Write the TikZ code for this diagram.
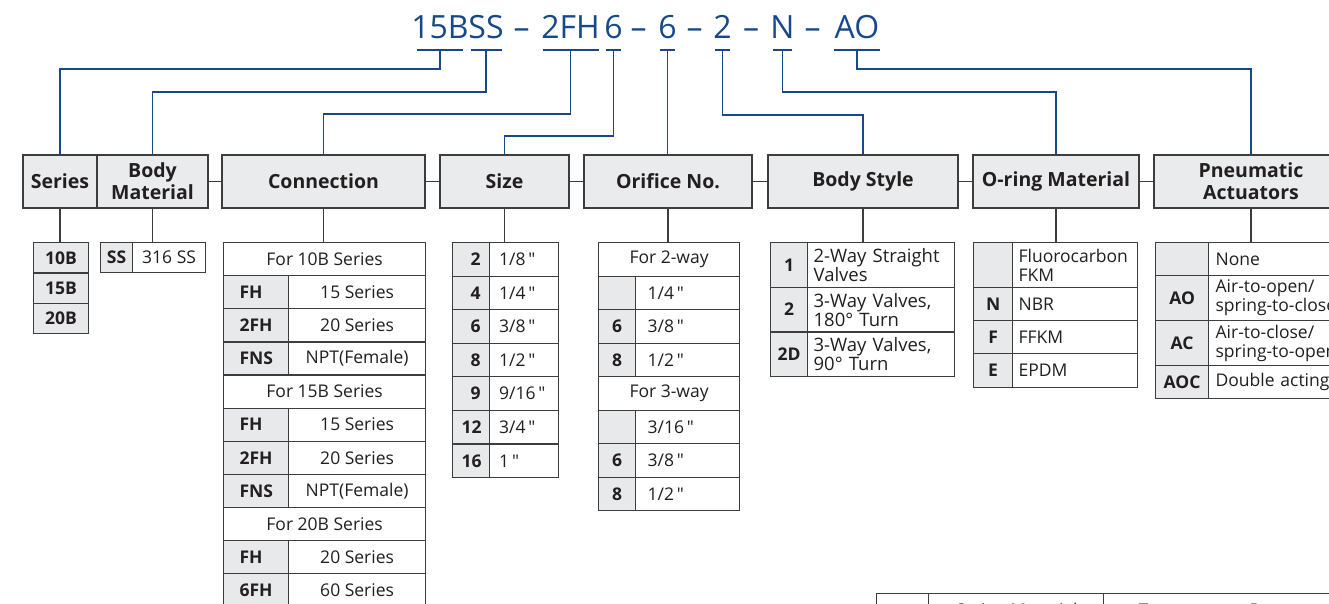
\documentclass[tikz,border=0pt]{standalone}
\usepackage{fontspec}
\setmainfont{Open Sans}[Ligatures=TeXOff]
\usepackage{tikz}
\usetikzlibrary{positioning, calc}
\definecolor{cCode}{HTML}{17498A}
\definecolor{cRule}{HTML}{3D3D3D}
\definecolor{cHead}{HTML}{EAEBEC}
\definecolor{cKey} {HTML}{E8E9EB}
\definecolor{cInk} {HTML}{231F20}

\begin{document}
\begin{tikzpicture}[x=1pt, y=-1pt,
    codepart/.style={text=cCode, font=\fontsize{32}{34}\selectfont, inner sep=0pt, anchor=base},
    codebar/.style={draw=cCode, line width=1.8pt},
    link/.style={draw=cCode, line width=1.8pt},
    tie/.style={draw=cRule, line width=1.3pt},
    header/.style={draw=cRule, fill=cHead, line width=1.3pt, minimum height=53, inner sep=0pt,
      text=cInk, font=\bfseries\fontsize{19.5}{22}\selectfont, align=center},
    keycell/.style={draw=cRule, fill=cKey, line width=1.2pt, anchor=north west, inner sep=0pt,
      text=cInk, font=\bfseries\fontsize{17.5}{19}\selectfont},
    valcell/.style={draw=cRule, fill=white, line width=1.2pt, anchor=north west, inner sep=0pt,
      text=cInk, font=\fontsize{17.5}{19}\selectfont},
  ]
  \useasboundingbox (0,0) rectangle (1329,604);

  % ordering code
  \node[codepart] (k15b) at (440,39)   {15B};
  \node[codepart] (kSS)  at (486,39)   {SS};
  \node[codepart] (d1)   at (521.5,39) {–};
  \node[codepart] (k2fh) at (570.5,39) {2FH};
  \node[codepart] (kSz)  at (613.5,39) {6};
  \node[codepart] (d2)   at (638.5,39) {–};
  \node[codepart] (kOri) at (667.5,39) {6};
  \node[codepart] (d3)   at (694.5,39) {–};
  \node[codepart] (kBS)  at (722.5,39) {2};
  \node[codepart] (d4)   at (751,39)   {–};
  \node[codepart] (kOR)  at (782.5,39) {N};
  \node[codepart] (d5)   at (812.5,39) {–};
  \node[codepart] (kPn)  at (857,39)   {AO};
  \foreach \k/\w in {k15b/23, kSS/15.5, k2fh/28, kSz/7.5, kOri/7.5, kBS/7.5, kOR/9.5, kPn/23}
    \draw[codebar] ([xshift=-\w pt, yshift=-11pt]\k.base) -- ([xshift=\w pt, yshift=-11pt]\k.base);

  % headers
  \node[header, minimum width=74]  (hSer)  at (60,181.5)    {Series};
  \node[header, minimum width=111] (hMat)  at (152.5,181.5) {Body\\Material};
  \node[header, minimum width=203] (hCon)  at (323.5,181.5) {Connection};
  \node[header, minimum width=129] (hSize) at (504.5,181.5) {Size};
  \node[header, minimum width=168] (hOri)  at (668,181.5)   {Orifice No.};
  \node[header, minimum width=190] (hBS)   at (863,181.5)   {Body Style};
  \node[header, minimum width=166] (hOR)   at (1056,181.5)  {O-ring Material};
  \node[header, minimum width=194] (hPn)   at (1251,181.5)  {Pneumatic\\Actuators};
  \foreach \a/\b in {hMat/hCon, hCon/hSize, hSize/hOri, hOri/hBS, hBS/hOR, hOR/hPn}
    \draw[tie] (\a.east) -- (\b.west);

  % code -> header
  \draw[link] ([yshift=-11pt]k15b.base) -- ++(0,19) -| (hSer.north);
  \draw[link] ([yshift=-11pt]kSS.base)  -- ++(0,42) -| (hMat.north);
  \draw[link] ([yshift=-11pt]k2fh.base) -- ++(0,64) -| (hCon.north);
  \draw[link] ([yshift=-11pt]kSz.base)  -- ++(0,86) -| (hSize.north);
  \draw[link] ([yshift=-11pt]kOri.base) -- (kOri.base |- hOri.north);
  \draw[link] ([yshift=-11pt]kBS.base)  -- ++(0,65) -| (hBS.north);
  \draw[link] ([yshift=-11pt]kOR.base)  -- ++(0,42) -| (hOR.north);
  \draw[link] ([yshift=-11pt]kPn.base)  -- ++(0,19) -| (hPn.north);

  % series
  \foreach \i/\t in {0/10B, 1/15B, 2/20B}
    \node[keycell, minimum width=55, minimum height=30.3] (ser\i) at (33,242+30.3*\i) {\t};

  % body material
  \node[keycell, minimum width=32, minimum height=30] (mat0) at (100,242) {SS};
  \node[valcell, minimum width=73, minimum height=30] (mat1) at (132,242) {316 SS};

  % connection
  \foreach \i/\t in {0/For 10B Series, 4/For 15B Series, 8/For 20B Series}
    \node[valcell, minimum width=202, minimum height=33.1] (con\i) at (223,242+33.1*\i) {\t};
  \foreach \i/\c/\v in {1/FH/15 Series, 2/2FH/20 Series, 3/FNS/NPT(Female), 5/FH/15 Series,
      6/2FH/20 Series, 7/FNS/NPT(Female), 9/FH/20 Series, 10/6FH/60 Series} {
    \node[keycell, minimum width=65, minimum height=33.1, inner xsep=16, text width=33, align=left]
      (conk\i) at (223,242+33.1*\i) {\c};
    \node[valcell, minimum width=137, minimum height=33.1] (conv\i) at (288,242+33.1*\i) {\v};
  }

  % size
  \foreach \i/\c/\v in {0/2/{1/8\,"}, 1/4/{1/4\,"}, 2/6/{3/8\,"}, 3/8/{1/2\,"},
      4/9/{9/16\,"}, 5/12/{3/4\,"}, 6/16/{1\,"}} {
    \node[keycell, minimum width=37, minimum height=33.57, inner xsep=9, text width=19, align=right]
      (szk\i) at (452,242+33.57*\i) {\c};
    \node[valcell, minimum width=69, minimum height=33.57, inner xsep=9.5, text width=50, align=left]
      (szv\i) at (489,242+33.57*\i) {\v};
  }

  % orifice
  \foreach \i/\t in {0/For 2-way, 4/For 3-way}
    \node[valcell, minimum width=141, minimum height=33.5] (ori\i) at (598,242+33.5*\i) {\t};
  \foreach \i/\c/\v in {1//{1/4\,"}, 2/6/{3/8\,"}, 3/8/{1/2\,"}, 5//{3/16\,"}, 6/6/{3/8\,"}, 7/8/{1/2\,"}} {
    \node[keycell, minimum width=37, minimum height=33.5] (orik\i) at (598,242+33.5*\i) {\c};
    \node[valcell, minimum width=104, minimum height=33.5, inner xsep=12, text width=80, align=left]
      (oriv\i) at (635,242+33.5*\i) {\v};
  }

  % body style
  \foreach \i/\c/\v in {0/1/{2-Way Straight\\Valves}, 1/2/{3-Way Valves,\\180° Turn}, 2/2D/{3-Way Valves,\\90° Turn}} {
    \node[keycell, minimum width=37, minimum height=44.7] (bsk\i) at (770,242+44.7*\i) {\c};
    \node[valcell, minimum width=147, minimum height=44.7, inner xsep=6, text width=135, align=left,
      font=\fontsize{18.5}{19}\selectfont] (bsv\i) at (807,242+44.7*\i) {\v};
  }

  % o-ring
  \foreach \i/\y/\h/\c/\v in {0/242/45//{Fluorocarbon\\FKM}, 1/287/33/N/NBR, 2/320/33/F/FFKM, 3/353/34/E/EPDM} {
    \node[keycell, minimum width=39, minimum height=\h] (ork\i) at (973,\y) {\c};
    \node[valcell, minimum width=125, minimum height=\h, inner xsep=6, text width=113, align=left]
      (orv\i) at (1012,\y) {\v};
  }

  % actuators
  \foreach \i/\y/\h/\c/\v in {0/242/33//None, 1/275/45/AO/{Air-to-open/\\spring-to-close},
      2/320/45/AC/{Air-to-close/\\spring-to-open}, 3/365/33/AOC/Double acting} {
    \node[keycell, minimum width=53, minimum height=\h] (pnk\i) at (1155,\y) {\c};
    \node[valcell, minimum width=140, minimum height=\h, inner xsep=7, text width=126, align=left]
      (pnv\i) at (1208,\y) {\v};
  }

  % header -> table
  \draw[tie] (hSer.south)  -- (hSer.south |- ser0.north);
  \draw[tie] (hMat.south)  -- (hMat.south |- mat1.north);
  \draw[tie] (hCon.south)  -- (hCon.south |- con0.north);
  \draw[tie] (hSize.south) -- (hSize.south |- szk0.north);
  \draw[tie] (hOri.south)  -- (hOri.south |- ori0.north);
  \draw[tie] (hBS.south)   -- (hBS.south |- bsv0.north);
  \draw[tie] (hOR.south)   -- (hOR.south |- orv0.north);
  \draw[tie] (hPn.south)   -- (hPn.south |- pnv0.north);

  % temperature table (cut off)
  \node[valcell, minimum width=52, minimum height=37]  (tmp0) at (876,593)  {Code};
  \node[valcell, minimum width=175, minimum height=37] (tmp1) at (928,593)  {O-ring Material};
  \node[valcell, minimum width=300, minimum height=37, inner xsep=35, text width=230, align=left]
    (tmp2) at (1103,593) {Temperature Range};
\end{tikzpicture}
\end{document}
